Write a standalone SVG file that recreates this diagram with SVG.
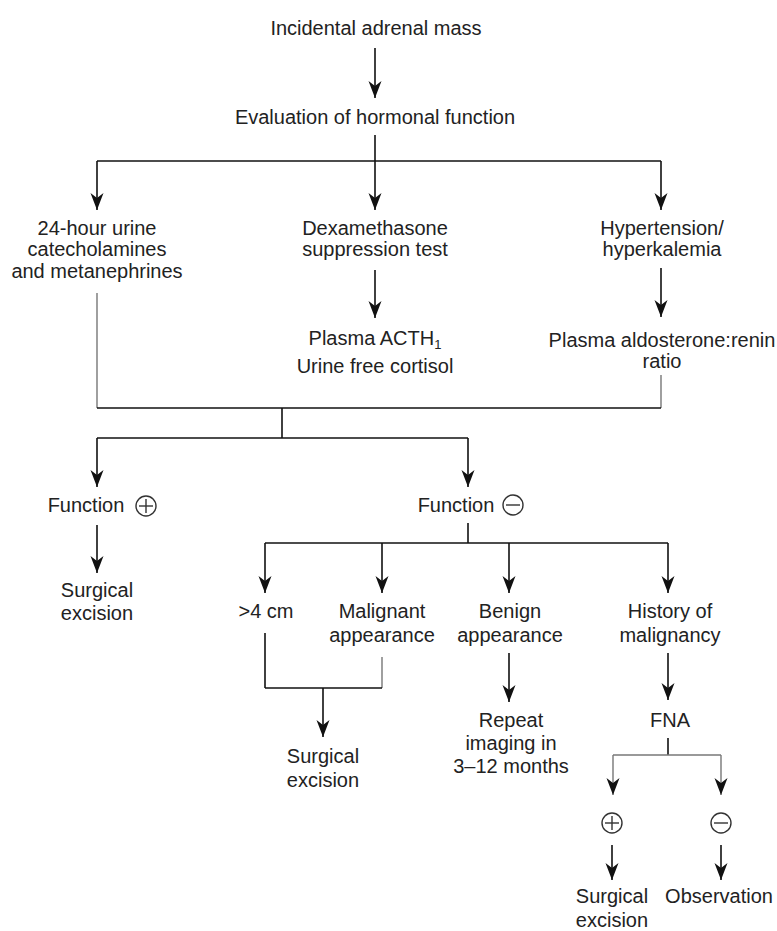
<svg xmlns="http://www.w3.org/2000/svg" width="777" height="931" viewBox="0 0 777 931">
  <style>
    text { font-family: "Liberation Sans", Arial, sans-serif; font-size: 20px; fill: #222; text-anchor: middle; }
    .ln { stroke: #111; stroke-width: 1.6; fill: none; }
    .gl { stroke: #777; stroke-width: 1.4; fill: none; }
    .ar { marker-end: url(#ah); }
    .sym { stroke: #333; stroke-width: 1.4; fill: none; }
  </style>
  <defs>
    <marker id="ah" viewBox="-18 -8 19 16" refX="0" refY="0" markerWidth="19" markerHeight="16" markerUnits="userSpaceOnUse" orient="auto">
      <path d="M0,0 L-17,-6.5 L-12,0 L-17,6.5 Z" fill="#111"/>
    </marker>
  </defs>
  <rect width="777" height="931" fill="#fff"/>

  <g id="connectors">
    <line class="ln ar" x1="375" y1="48" x2="375" y2="98"/>
    <line class="ln" x1="375" y1="135" x2="375" y2="161"/>
    <line class="ln" x1="97" y1="161" x2="661" y2="161"/>
    <line class="ln ar" x1="97" y1="161" x2="97" y2="210"/>
    <line class="ln ar" x1="375" y1="161" x2="375" y2="210"/>
    <line class="ln ar" x1="661" y1="161" x2="661" y2="210"/>
    <line class="ln ar" x1="375" y1="270" x2="375" y2="318"/>
    <line class="ln ar" x1="661" y1="268" x2="661" y2="317"/>
    <line class="gl" x1="97" y1="293" x2="97" y2="408"/>
    <line class="gl" x1="661" y1="375" x2="661" y2="408"/>
    <line class="ln" x1="97" y1="408" x2="661" y2="408"/>
    <line class="ln" x1="282" y1="408" x2="282" y2="438"/>
    <line class="ln" x1="97" y1="438" x2="468" y2="438"/>
    <line class="ln ar" x1="97" y1="438" x2="97" y2="487"/>
    <line class="ln ar" x1="468" y1="438" x2="468" y2="487"/>
    <line class="ln ar" x1="97" y1="525" x2="97" y2="573"/>
    <line class="ln" x1="468" y1="523" x2="468" y2="543"/>
    <line class="ln" x1="265" y1="543" x2="668" y2="543"/>
    <line class="ln ar" x1="265" y1="543" x2="265" y2="593"/>
    <line class="ln ar" x1="382" y1="543" x2="382" y2="593"/>
    <line class="ln ar" x1="509" y1="543" x2="509" y2="593"/>
    <line class="ln ar" x1="668" y1="543" x2="668" y2="593"/>
    <line class="ln" x1="265" y1="633" x2="265" y2="688"/>
    <line class="gl" x1="382" y1="657" x2="382" y2="688"/>
    <line class="ln" x1="265" y1="688" x2="382" y2="688"/>
    <line class="ln ar" x1="323" y1="688" x2="323" y2="737"/>
    <line class="ln ar" x1="509" y1="653" x2="509" y2="702"/>
    <line class="ln ar" x1="668" y1="653" x2="668" y2="700"/>
    <line class="ln" x1="668" y1="738" x2="668" y2="755"/>
    <line class="gl" x1="613" y1="755" x2="721" y2="755"/>
    <line class="gl ar" x1="613" y1="755" x2="613" y2="795"/>
    <line class="gl ar" x1="721" y1="755" x2="721" y2="795"/>
    <line class="ln ar" x1="612" y1="845" x2="612" y2="880"/>
    <line class="ln ar" x1="721" y1="845" x2="721" y2="880"/>
  </g>

  <g id="n-incidental"><text x="376" y="35">Incidental adrenal mass</text></g>
  <g id="n-evaluation"><text x="375" y="124">Evaluation of hormonal function</text></g>
  <g id="n-urine">
    <text x="97" y="235">24-hour urine</text>
    <text x="97" y="256">catecholamines</text>
    <text x="97" y="278">and metanephrines</text>
  </g>
  <g id="n-dexa">
    <text x="375" y="235">Dexamethasone</text>
    <text x="375" y="256">suppression test</text>
  </g>
  <g id="n-hyper">
    <text x="662" y="235">Hypertension/</text>
    <text x="662" y="256">hyperkalemia</text>
  </g>
  <g id="n-acth">
    <text x="375" y="345">Plasma ACTH<tspan font-size="13" dy="4">1</tspan></text>
    <text x="375" y="373">Urine free cortisol</text>
  </g>
  <g id="n-aldo">
    <text x="662" y="347">Plasma aldosterone:renin</text>
    <text x="662" y="368">ratio</text>
  </g>
  <g id="n-func-pos">
    <text x="86" y="512">Function</text>
    <circle class="sym" cx="146" cy="506" r="10"/>
    <line class="sym" x1="139" y1="506" x2="153" y2="506"/>
    <line class="sym" x1="146" y1="499" x2="146" y2="513"/>
  </g>
  <g id="n-func-neg">
    <text x="456" y="512">Function</text>
    <circle class="sym" cx="513" cy="505" r="10"/>
    <line class="sym" x1="506" y1="505" x2="520" y2="505"/>
  </g>
  <g id="n-surg1">
    <text x="97" y="597">Surgical</text>
    <text x="97" y="620">excision</text>
  </g>
  <g id="n-4cm"><text x="266" y="618">&gt;4 cm</text></g>
  <g id="n-malig">
    <text x="382" y="618">Malignant</text>
    <text x="382" y="642">appearance</text>
  </g>
  <g id="n-benign">
    <text x="510" y="618">Benign</text>
    <text x="510" y="642">appearance</text>
  </g>
  <g id="n-history">
    <text x="670" y="618">History of</text>
    <text x="670" y="642">malignancy</text>
  </g>
  <g id="n-surg2">
    <text x="323" y="763">Surgical</text>
    <text x="323" y="787">excision</text>
  </g>
  <g id="n-repeat">
    <text x="511" y="727">Repeat</text>
    <text x="511" y="750">imaging in</text>
    <text x="511" y="773">3–12 months</text>
  </g>
  <g id="n-fna"><text x="670" y="727">FNA</text></g>
  <g id="n-pos">
    <circle class="sym" cx="612" cy="823" r="10"/>
    <line class="sym" x1="605" y1="823" x2="619" y2="823"/>
    <line class="sym" x1="612" y1="816" x2="612" y2="830"/>
  </g>
  <g id="n-neg">
    <circle class="sym" cx="721" cy="823" r="10"/>
    <line class="sym" x1="714" y1="823" x2="728" y2="823"/>
  </g>
  <g id="n-surg3">
    <text x="612" y="903">Surgical</text>
    <text x="612" y="927">excision</text>
  </g>
  <g id="n-obs"><text x="719" y="903">Observation</text></g>
</svg>
